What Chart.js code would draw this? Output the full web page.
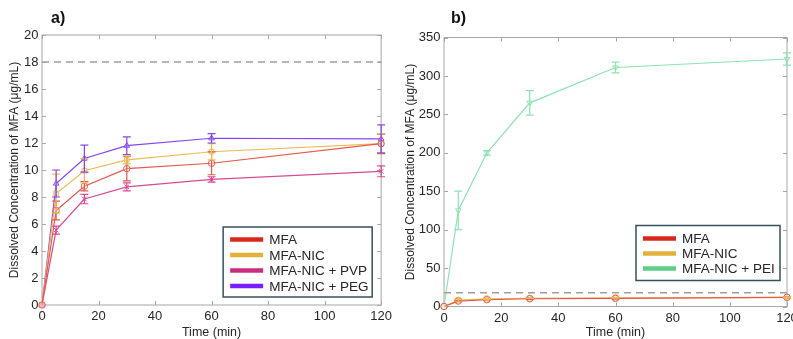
<!DOCTYPE html>
<html>
<head>
<meta charset="utf-8">
<script src="https://cdn.jsdelivr.net/npm/chart.js@4/dist/chart.umd.min.js"></script>
<style>
  body { margin: 0; width: 793px; height: 339px; overflow: hidden; background: #fff; position: relative; }
  .panel { position: absolute; top: 0; height: 339px; }
  .tag { position: absolute; top: 9px; font: bold 16px "Liberation Sans", Arial, sans-serif; color: #111; }
</style>
</head>
<body>
<div class="panel" style="left:0;width:396px"><canvas id="chartA" width="396" height="339"></canvas></div>
<div class="panel" style="left:400px;width:410px"><canvas id="chartB" width="410" height="339"></canvas></div>
<div class="tag" style="left:51px">a)</div>
<div class="tag" style="left:451px">b)</div>
<script>
// sampling times (min)
const times = [0, 5, 15, 30, 60, 120];

// dissolved concentration of MFA (ug/mL) and error bars
const mfa = [0, 7.0, 8.8, 10.1, 10.5, 11.95];
const mfaErr = [0, 0.7, 0.35, 0.9, 0.85, 0.7];
const mfaNic = [0, 8.25, 9.95, 10.75, 11.35, 11.95];
const mfaNicErr = [0, 1.45, 0.9, 0.3, 0.6, 0.75];
const mfaNicPvp = [0, 5.55, 7.85, 8.75, 9.3, 9.9];
const mfaNicPvpErr = [0, 0.3, 0.35, 0.3, 0.2, 0.4];
const mfaNicPeg = [0, 9.0, 10.85, 11.8, 12.35, 12.3];
const mfaNicPegErr = [0, 1.0, 1.0, 0.65, 0.35, 1.05];
const mfaNicPei = [0, 125, 200, 265, 311, 322];
const mfaNicPeiErr = [0, 25, 3, 16, 7, 8];

// equilibrium solubility line
const solubilityX = [0, 120];
const solubilityY = [18, 18];

const xTicks = [0, 20, 40, 60, 80, 100, 120];

const FONT = '"Liberation Sans", Arial, sans-serif';
const TEXT = '#262626';

function pts(ys) {
  return times.map((t, i) => ({ x: t, y: ys[i] }));
}

function series(label, ys, errs, line, swatch, shape, rot) {
  return {
    label: label,
    data: pts(ys),
    err: errs,
    swatch: swatch,
    borderColor: line,
    backgroundColor: line,
    borderWidth: 1.2,
    pointStyle: shape,
    rotation: rot || 0,
    pointRadius: 3.2,
    pointBorderWidth: 1,
    pointBackgroundColor: 'rgba(255,255,255,0.3)',
    pointBorderColor: line,
    tension: 0,
    clip: false
  };
}

function solubilityLine() {
  return {
    label: 'solubility',
    data: solubilityX.map((x, i) => ({ x: x, y: solubilityY[i] })),
    borderColor: '#a0a0a0',
    borderWidth: 1.5,
    borderDash: [7, 5],
    pointRadius: 0,
    noLegend: true
  };
}

// box, inward ticks, error bars, boxed legend
const decor = {
  id: 'decor',
  beforeDatasetsDraw(chart) {
    const { ctx, chartArea: a, scales } = chart;
    ctx.save();
    ctx.strokeStyle = '#a6a6a6';
    ctx.lineWidth = 1;
    ctx.strokeRect(a.left, a.top, a.right - a.left, a.bottom - a.top);
    ctx.beginPath();
    scales.x.ticks.forEach(t => {
      const px = Math.round(scales.x.getPixelForValue(t.value)) + 0.5;
      ctx.moveTo(px, a.bottom); ctx.lineTo(px, a.bottom - 4);
      ctx.moveTo(px, a.top); ctx.lineTo(px, a.top + 4);
    });
    scales.y.ticks.forEach(t => {
      const py = Math.round(scales.y.getPixelForValue(t.value)) + 0.5;
      ctx.moveTo(a.left, py); ctx.lineTo(a.left + 4, py);
      ctx.moveTo(a.right, py); ctx.lineTo(a.right - 4, py);
    });
    ctx.stroke();
    ctx.restore();
  },
  afterDatasetsDraw(chart) {
    const { ctx, scales } = chart;
    ctx.save();
    chart.data.datasets.forEach(ds => {
      if (!ds.err) return;
      ctx.strokeStyle = ds.borderColor;
      ctx.lineWidth = 1.2;
      ds.data.forEach((p, i) => {
        const e = ds.err[i];
        if (!e) return;
        const px = scales.x.getPixelForValue(p.x);
        const y1 = scales.y.getPixelForValue(p.y - e);
        const y2 = scales.y.getPixelForValue(p.y + e);
        ctx.beginPath();
        ctx.moveTo(px, y1); ctx.lineTo(px, y2);
        ctx.moveTo(px - 4, y1); ctx.lineTo(px + 4, y1);
        ctx.moveTo(px - 4, y2); ctx.lineTo(px + 4, y2);
        ctx.stroke();
      });
    });
    ctx.restore();
  },
  afterDraw(chart, args, opts) {
    const { ctx, chartArea: a } = chart;
    const items = chart.data.datasets.filter(d => !d.noLegend);
    const x0 = a.right - opts.right - opts.w;
    const y0 = a.bottom - opts.bottom - opts.h;
    ctx.save();
    ctx.fillStyle = '#fff';
    ctx.fillRect(x0, y0, opts.w, opts.h);
    ctx.strokeStyle = '#34505c';
    ctx.lineWidth = 1.5;
    ctx.strokeRect(x0, y0, opts.w, opts.h);
    ctx.font = '13.5px ' + FONT;
    ctx.textBaseline = 'middle';
    items.forEach((d, i) => {
      const cy = y0 + opts.first + i * opts.row;
      ctx.strokeStyle = d.swatch;
      ctx.lineWidth = 4.5;
      ctx.beginPath();
      ctx.moveTo(x0 + 7, cy); ctx.lineTo(x0 + 40, cy);
      ctx.stroke();
      ctx.fillStyle = TEXT;
      ctx.fillText(d.label, x0 + 46, cy + 1);
    });
    ctx.restore();
  }
};

function makeChart(id, datasets, yMax, yStep, yWidth, xHeight, pad, titlePad, legend) {
  return new Chart(document.getElementById(id), {
    type: 'line',
    data: { datasets: datasets },
    plugins: [decor],
    options: {
      responsive: false,
      animation: false,
      layout: { padding: pad },
      plugins: {
        legend: { display: false },
        tooltip: { enabled: false },
        decor: legend
      },
      scales: {
        x: {
          type: 'linear', min: 0, max: 120,
          afterBuildTicks: s => { s.ticks = xTicks.map(v => ({ value: v })); },
          afterFit: s => { s.height = xHeight; },
          grid: { display: false, drawTicks: false },
          border: { display: false },
          ticks: { color: TEXT, font: { family: FONT, size: 13 }, padding: 4, maxRotation: 0 },
          title: { display: true, text: 'Time (min)', color: TEXT, font: { family: FONT, size: 12.5, lineHeight: 1 }, padding: { top: 0, bottom: 0 } }
        },
        y: {
          type: 'linear', min: 0, max: yMax,
          afterFit: s => { s.width = yWidth; },
          grid: { display: false, drawTicks: false },
          border: { display: false },
          ticks: { stepSize: yStep, color: TEXT, font: { family: FONT, size: 13 }, padding: 3.5 },
          title: { display: true, text: 'Dissolved Concentration of MFA (\u03bcg/mL)', color: TEXT, font: { family: FONT, size: 12 }, padding: { top: titlePad, bottom: 0 } }
        }
      }
    }
  });
}

makeChart('chartA', [
  solubilityLine(),
  series('MFA', mfa, mfaErr, '#e6574c', '#d8281a', 'circle'),
  series('MFA-NIC', mfaNic, mfaNicErr, '#e9bd52', '#e2b13a', 'rect'),
  series('MFA-NIC + PVP', mfaNicPvp, mfaNicPvpErr, '#d94a92', '#c92c7d', 'crossRot'),
  series('MFA-NIC + PEG', mfaNicPeg, mfaNicPegErr, '#8444f5', '#7a1fff', 'triangle')
], 20, 2, 42, 34, { top: 35, right: 11, left: 0, bottom: 0 }, 7,
  { right: 9, bottom: 8, w: 149, h: 70, first: 12.5, row: 15.5 });

makeChart('chartB', [
  solubilityLine(),
  series('MFA', mfa, mfaErr, '#e6574c', '#d8281a', 'circle'),
  series('MFA-NIC', mfaNic, mfaNicErr, '#e9bd52', '#e2b13a', 'circle'),
  series('MFA-NIC + PEI', mfaNicPei, mfaNicPeiErr, '#8de3b2', '#5ccf86', 'triangle', 180)
], 350, 50, 44, 32.5, { top: 37.5, right: 23, left: 0, bottom: 0 }, 3,
  { right: 7, bottom: 26, w: 144, h: 55, first: 13, row: 15 });
</script>
</body>
</html>
